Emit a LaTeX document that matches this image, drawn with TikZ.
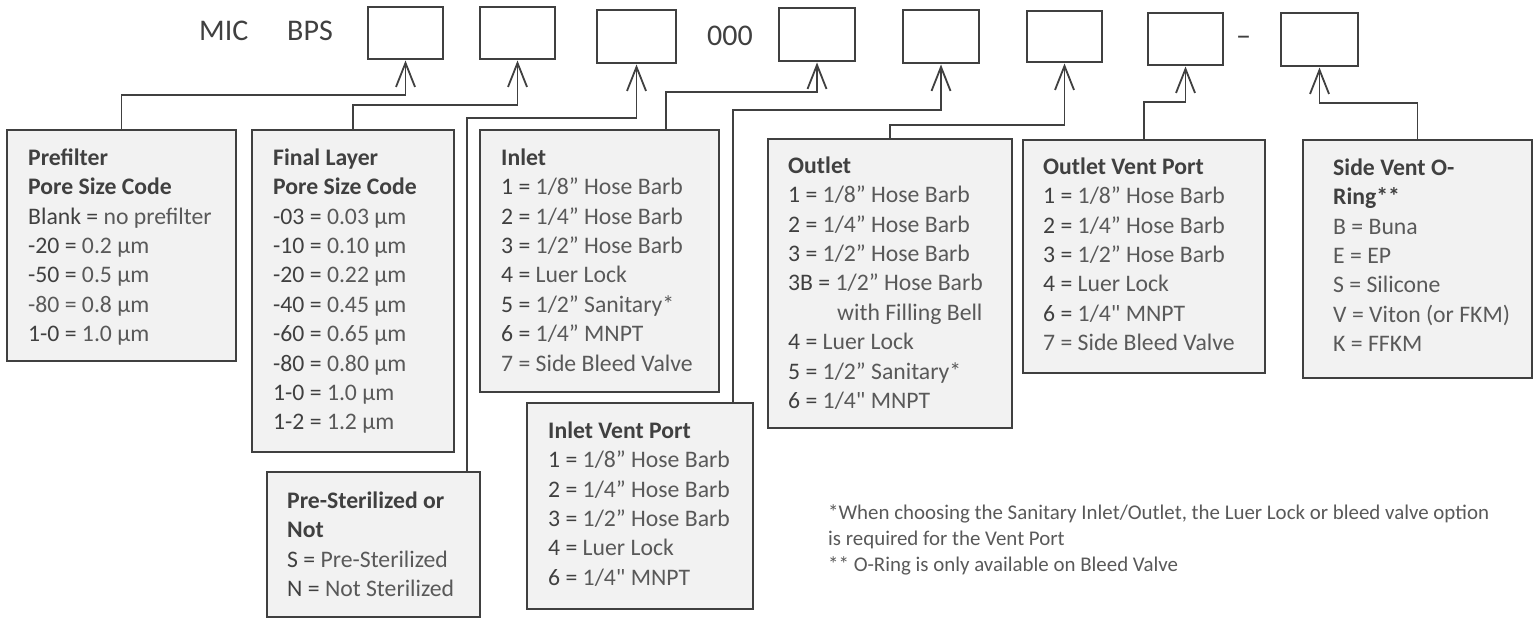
\documentclass[tikz,border=0pt]{standalone}
\usepackage{fontspec}
\setmainfont{Carlito}[Ligatures=TeXOff]
\usetikzlibrary{arrows.meta}
\definecolor{ink}{HTML}{404040}
\definecolor{lt}{HTML}{595959}
\definecolor{fillc}{HTML}{F2F2F2}
\newcommand{\fst}{\rule{0pt}{20pt}}
\newcommand{\fnst}{\rule{0pt}{17pt}}
\newcommand{\cd}[1]{\textcolor{ink}{#1}}
\newcommand{\hd}[1]{\textcolor{ink}{\bfseries #1}}
\tikzset{
  optbox/.style={draw=ink, line width=1.8pt, fill=fillc, inner sep=0pt, outer sep=0pt, anchor=north west},
  codebox/.style={draw=ink, line width=1.8pt, fill=white, inner sep=0pt, outer sep=0pt, anchor=north west},
  txt/.style={anchor=north west, inner sep=0pt, align=left, text=lt, font=\fontsize{23.7}{29.4}\selectfont},
  title/.style={anchor=base west, inner sep=0pt, text=ink, font=\fontsize{30}{36}\selectfont},
  fn/.style={anchor=north west, inner sep=0pt, align=left, text=lt, font=\fontsize{20.9}{26.2}\selectfont},
  conn/.style={draw=ink, line width=1.8pt, shorten >=1.5pt, -{Straight Barb[length=24pt,width=19pt]}}
}
\begin{document}
\begin{tikzpicture}[x=1pt,y=-1pt]
\useasboundingbox (0,0) rectangle (1538,618);
\fill[white] (0,0) rectangle (1538,618);

% title row
\node[title] (mic) at (199,41) {MIC};
\node[title] (bps) at (287,41) {BPS};
\node[title] (zeros) at (707,46) {000};
\node[title] (dash) at (1236,46) {–};

\node[codebox, minimum width=75, minimum height=52] (b1) at (368,7) {};
\node[codebox, minimum width=75, minimum height=52] (b2) at (480,7) {};
\node[codebox, minimum width=79, minimum height=53] (b3) at (597,10) {};
\node[codebox, minimum width=76, minimum height=53] (b4) at (779,8) {};
\node[codebox, minimum width=76, minimum height=53] (b5) at (903,10) {};
\node[codebox, minimum width=75, minimum height=51] (b6) at (1027,11) {};
\node[codebox, minimum width=75, minimum height=52] (b7) at (1148,13) {};
\node[codebox, minimum width=77, minimum height=53] (b8) at (1281,13) {};

% option boxes
\node[optbox, minimum width=229, minimum height=231] (pref) at (7,130) {};
\node[optbox, minimum width=202, minimum height=322] (fin) at (252,130) {};
\node[optbox, minimum width=239, minimum height=262] (inlet) at (480,130) {};
\node[optbox, minimum width=244, minimum height=289] (outl) at (768,139) {};
\node[optbox, minimum width=242, minimum height=233] (ovp) at (1023,140) {};
\node[optbox, minimum width=229, minimum height=238] (svo) at (1303,140) {};
\node[optbox, minimum width=213, minimum height=145] (pre) at (267,472) {};
\node[optbox, minimum width=226, minimum height=206] (ivp) at (527,403) {};

% texts
\node[txt] (prefT) at ([shift={(21,15)}]pref.north west) {\fst\hd{Prefilter}\\ \hd{Pore Size Code}\\ \cd{Blank =} no prefilter\\ \cd{-20 =} 0.2 µm\\ \cd{-50 =} 0.5 µm\\ -80 = 0.8 µm\\ \cd{1-0 =} 1.0 µm};
\node[txt] (finT) at ([shift={(21,15)}]fin.north west) {\fst\hd{Final Layer}\\ \hd{Pore Size Code}\\ \cd{-03 =} 0.03 µm\\ \cd{-10 =} 0.10 µm\\ \cd{-20 =} 0.22 µm\\ \cd{-40 =} 0.45 µm\\ \cd{-60 =} 0.65 µm\\ \cd{-80 =} 0.80 µm\\ \cd{1-0 =} 1.0 µm\\ \cd{1-2 =} 1.2 µm};
\node[txt] (inT) at ([shift={(21,15)}]inlet.north west) {\fst\hd{Inlet}\\ \cd{1 =} 1/8” Hose Barb\\ \cd{2 =} 1/4” Hose Barb\\ \cd{3 =} 1/2” Hose Barb\\ \cd{4 =} Luer Lock\\ \cd{5 =} 1/2” Sanitary*\\ \cd{6 =} 1/4” MNPT\\ 7 = Side Bleed Valve};
\node[txt] (outT) at ([shift={(20,14)}]outl.north west) {\fst\hd{Outlet}\\ \cd{1 =} 1/8” Hose Barb\\ \cd{2 =} 1/4” Hose Barb\\ \cd{3 =} 1/2” Hose Barb\\ \cd{3B =} 1/2” Hose Barb\\ \hspace*{49pt}with Filling Bell\\ \cd{4 =} Luer Lock\\ \cd{5 =} 1/2” Sanitary*\\ \cd{6 =} 1/4" MNPT};
\node[txt] (ovpT) at ([shift={(20,14)}]ovp.north west) {\fst\hd{Outlet Vent Port}\\ \cd{1 =} 1/8” Hose Barb\\ \cd{2 =} 1/4” Hose Barb\\ \cd{3 =} 1/2” Hose Barb\\ \cd{4 =} Luer Lock\\ \cd{6 =} 1/4" MNPT\\ 7 = Side Bleed Valve};
\node[txt] (svoT) at ([shift={(30,15)}]svo.north west) {\fst\hd{Side Vent O-}\\ \hd{Ring**}\\ B = Buna\\ E = EP\\ S = Silicone\\ V = Viton (or FKM)\\ K = FFKM};
\node[txt] (preT) at ([shift={(20,16)}]pre.north west) {\fst\hd{Pre-Sterilized or}\\ \hd{Not}\\ \cd{S =} Pre-Sterilized\\ \cd{N =} Not Sterilized};
\node[txt] (ivpT) at ([shift={(21,15)}]ivp.north west) {\fst\hd{Inlet Vent Port}\\ \cd{1 =} 1/8” Hose Barb\\ \cd{2 =} 1/4” Hose Barb\\ \cd{3 =} 1/2” Hose Barb\\ \cd{4 =} Luer Lock\\ \cd{6 =} 1/4" MNPT};

% footnotes
\node[fn] (note) at (828,502) {\fnst*When choosing the Sanitary Inlet/Outlet, the Luer Lock or bleed valve option\\ is required for the Vent Port\\ ** O-Ring is only available on Bleed Valve};

% connectors
\coordinate (k1) at (0,95);
\coordinate (k2) at (0,105);
\coordinate (k3) at (0,118);
\coordinate (k4) at (0,92);
\coordinate (k5) at (0,110);
\coordinate (k6) at (0,125);
\coordinate (k7) at (0,102);
\coordinate (k8) at (0,103);
\coordinate (preJ) at ([xshift=-13pt]pre.north east);
\coordinate (inJ) at ([xshift=-53pt]inlet.north east);
\coordinate (ivJ) at ([xshift=-20pt]ivp.north east);

\draw[conn] (pref.north) -- (pref.north |- k1) -| (b1.south);
\draw[conn] (fin.north) -- (fin.north |- k2) -| (b2.south);
\draw[conn] (preJ) -- (preJ |- k3) -| (b3.south);
\draw[conn] (inJ) -- (inJ |- k4) -| (b4.south);
\draw[conn] (ivJ) -- (ivJ |- k5) -| (b5.south);
\draw[conn] (outl.north) -- (outl.north |- k6) -| (b6.south);
\draw[conn] (ovp.north) -- (ovp.north |- k7) -| (b7.south);
\draw[conn] (svo.north) -- (svo.north |- k8) -| (b8.south);
\end{tikzpicture}
\end{document}
